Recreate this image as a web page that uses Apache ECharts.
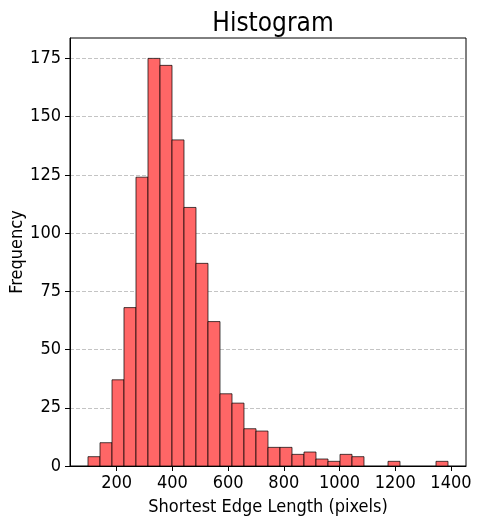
<!DOCTYPE html>
<html>
<head>
<meta charset="utf-8">
<script src="https://cdn.jsdelivr.net/npm/echarts@6/dist/echarts.min.js"></script>
<style>
html,body{margin:0;padding:0;background:#fff;}
#chart{width:481px;height:525px;}
</style>
</head>
<body>
<div id="chart"></div>
<script>
// Histogram bin edges (31 edges -> 30 bins)
var binEdges = [97.0, 140.1, 183.2, 226.2, 269.3, 312.4, 355.5, 398.6, 441.6, 484.7,
  527.8, 570.9, 614.0, 657.0, 700.1, 743.2, 786.3, 829.4, 872.4, 915.5,
  958.6, 1001.7, 1044.8, 1087.8, 1130.9, 1174.0, 1217.1, 1260.2, 1303.2, 1346.3, 1389.4];
// Frequency of each bin
var counts = [4, 10, 37, 68, 124, 175, 172, 140, 111, 87,
  62, 31, 27, 16, 15, 8, 8, 5, 6, 3,
  2, 5, 4, 0, 0, 2, 0, 0, 0, 2];
var xTicks = [200, 400, 600, 800, 1000, 1200, 1400];
var yTicks = [0, 25, 50, 75, 100, 125, 150, 175];
var titleText = 'Histogram';
var xName = 'Shortest Edge Length (pixels)';
var yName = 'Frequency';

var FONT = '"DejaVu Sans Condensed", "DejaVu Sans", sans-serif';

var data = [];
for (var i = 0; i < counts.length; i++) {
  if (counts[i] > 0) data.push([binEdges[i], binEdges[i + 1], counts[i]]);
}

var chart = echarts.init(document.getElementById('chart'), null, {renderer: 'canvas'});
chart.setOption({
  animation: false,
  backgroundColor: '#fff',
  title: {
    text: titleText,
    left: 268, textAlign: 'center',
    top: 6,
    textStyle: {fontFamily: FONT, fontSize: 26, fontWeight: 'normal', color: '#000'}
  },
  grid: {left: 70, right: 15, top: 38, bottom: 59, outerBoundsMode: 'none', containLabel: false,
    show: true, borderColor: '#000', borderWidth: 1, backgroundColor: 'transparent'},
  xAxis: {
    type: 'value', min: 32.4, max: 1454,
    name: xName, nameLocation: 'middle', nameGap: 32, nameMoveOverlap: false,
    nameTextStyle: {fontFamily: FONT, fontSize: 18, color: '#000'},
    axisLine: {show: true, onZero: false, lineStyle: {color: '#000', width: 1}},
    axisTick: {show: true, customValues: xTicks, length: 5, lineStyle: {color: '#000'}},
    axisLabel: {customValues: xTicks, margin: 8, fontFamily: FONT, fontSize: 18, color: '#000',
      formatter: function (v) { return String(v); }},
    splitLine: {show: false}
  },
  yAxis: {
    type: 'value', min: 0, max: 183.75, interval: 25,
    name: yName, nameLocation: 'middle', nameGap: 44, nameRotate: 90, nameMoveOverlap: false,
    nameTextStyle: {fontFamily: FONT, fontSize: 18, color: '#000'},
    axisLine: {show: true, lineStyle: {color: '#000', width: 1}},
    axisTick: {show: true, customValues: yTicks, length: 5, lineStyle: {color: '#000'}},
    axisLabel: {customValues: yTicks, margin: 9, fontFamily: FONT, fontSize: 18, color: '#000',
      formatter: function (v) { return String(v); }},
    splitLine: {show: true, lineStyle: {color: '#c4c4c4', type: [4, 2], width: 1}}
  },
  series: [{
    type: 'custom',
    data: data,
    encode: {x: [0, 1], y: 2},
    renderItem: function (params, api) {
      var p0 = api.coord([api.value(0), api.value(2)]);
      var p1 = api.coord([api.value(1), 0]);
      return {
        type: 'rect',
        shape: {x: p0[0], y: p0[1], width: p1[0] - p0[0], height: p1[1] - p0[1]},
        style: {fill: '#ff6666', stroke: 'rgba(0,0,0,0.7)', lineWidth: 1}
      };
    }
  }]
});
</script>
</body>
</html>
